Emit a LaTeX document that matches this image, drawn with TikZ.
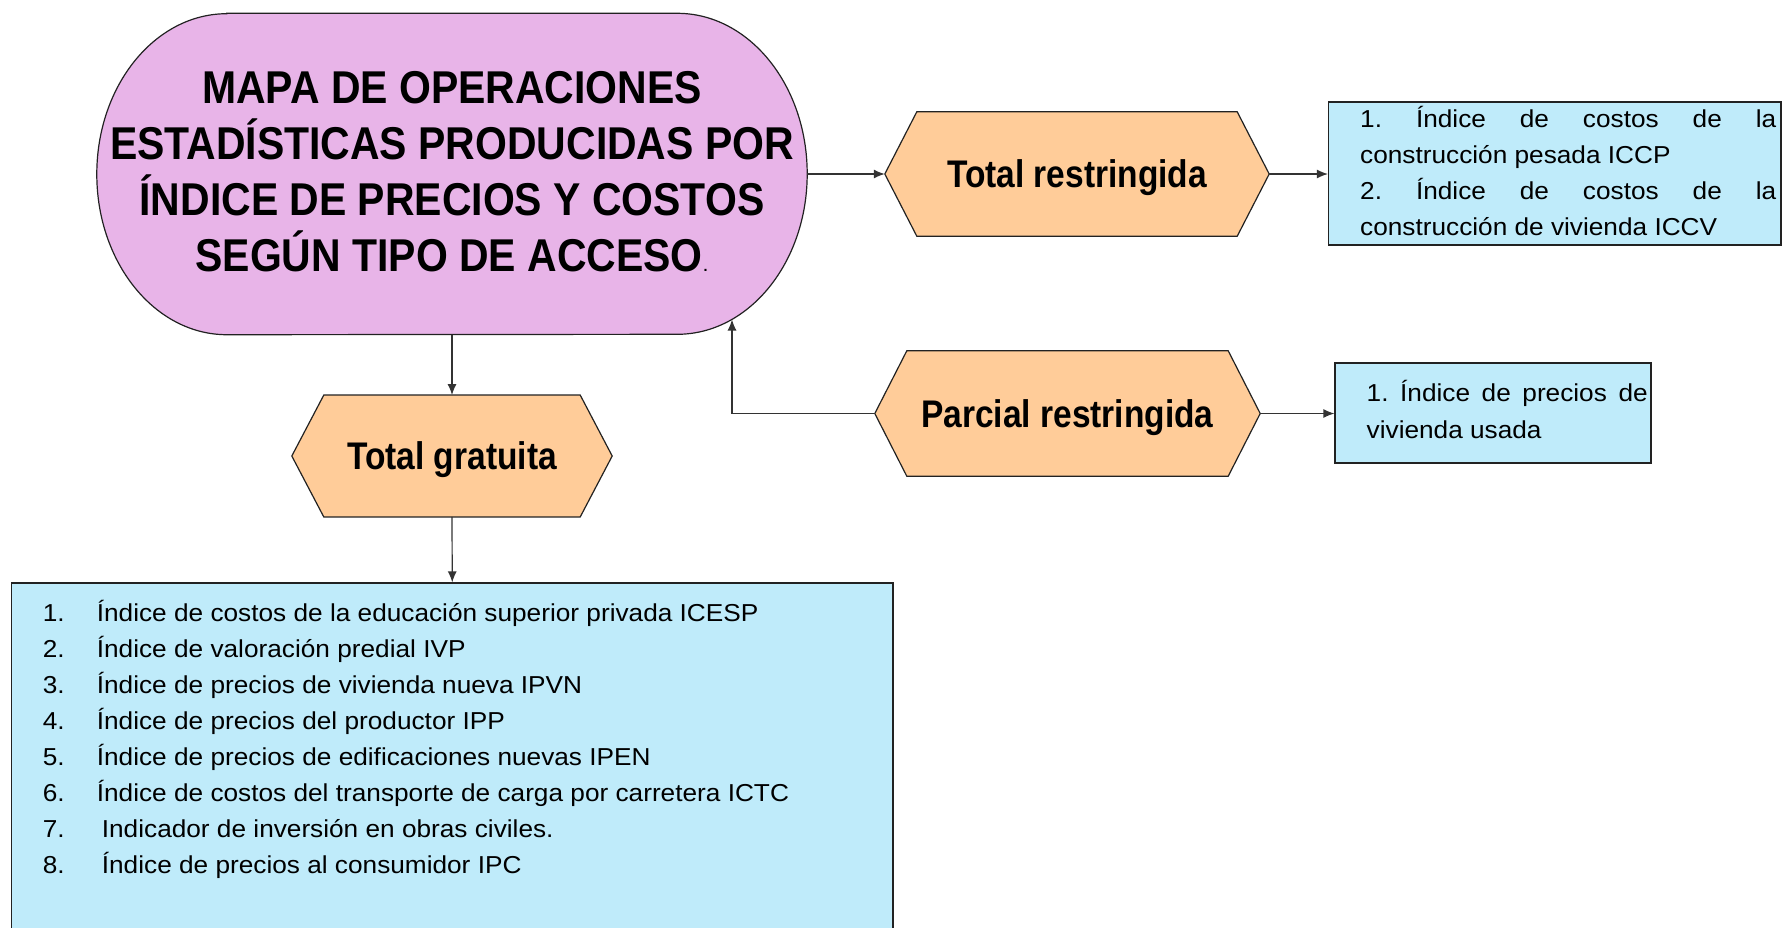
\documentclass[tikz,border=0pt]{standalone}
\usepackage{fontspec}
\setmainfont{Liberation Sans}
\newfontfamily\regfont{Liberation Sans}[FakeStretch=1.07]
\newfontfamily\hexfontfam{Liberation Sans}[FakeStretch=0.87]
\newfontfamily\titlefontfam{Liberation Sans}[FakeStretch=0.89]
\usetikzlibrary{arrows.meta,backgrounds,calc}
\definecolor{stadpink}{RGB}{232,180,232}
\definecolor{hexpeach}{RGB}{255,204,153}
\definecolor{boxcyan}{RGB}{191,235,250}
\definecolor{outline}{RGB}{34,34,34}
\definecolor{linegray}{RGB}{51,51,51}
\begin{document}
\begin{tikzpicture}[x=1pt,y=1pt,
  conn/.style={draw=linegray, line width=1.2pt, -{Latex[length=11pt,width=9pt]}},
  mainnode/.style={shape=rectangle, inner sep=0pt, minimum width=710pt, minimum height=321pt,
    align=center, text depth=6pt, font=\titlefontfam\bfseries\fontsize{46}{56}\selectfont},
  hexnode/.style={shape=rectangle, inner sep=0pt, minimum height=124pt, text height=27pt,
    text depth=0pt, font=\hexfontfam\bfseries\fontsize{38.5}{39}\selectfont},
  shapeline/.style={draw=outline, line width=1.2pt},
  listbox/.style={shape=rectangle, fill=boxcyan, draw=outline, line width=1.2pt, inner sep=0pt},
  linetext/.style={anchor=base west, inner sep=0pt, font=\regfont\fontsize{24.5}{36}\selectfont},
]
\clip (0,0) rectangle (1782,-927);

% main title node
\node[mainnode] (main) at (452,-174) {MAPA DE OPERACIONES\\ESTADÍSTICAS PRODUCIDAS POR\\ÍNDICE DE PRECIOS Y COSTOS\\SEGÚN TIPO DE ACCESO{\regfont\mdseries\fontsize{20}{20}\selectfont.}};

% hexagon nodes
\node[hexnode, minimum width=384pt] (tr) at (1077,-174) {Total restringida};
\node[hexnode, minimum width=385pt, minimum height=125pt] (pr) at (1067.5,-413.5) {Parcial restringida};
\node[hexnode, minimum width=320pt, minimum height=121.5pt] (tg) at (452,-456) {Total gratuita};

% list boxes
\node[listbox, minimum width=452.5pt, minimum height=143pt] (box1) at (1554.75,-173.5) {};
\node[listbox, minimum width=316pt, minimum height=100pt] (box2) at (1493,-413) {};
\node[listbox, minimum width=881.5pt, minimum height=357pt] (box3) at (452.25,-761.5) {};

% box 1 text
\node[linetext] (b1l1) at (1360,-127) {\hbox to 416pt{1.\hfill Índice\hfill de\hfill costos\hfill de\hfill la}};
\node[linetext] (b1l2) at (1360,-163) {construcción pesada ICCP};
\node[linetext] (b1l3) at (1360,-199) {\hbox to 416pt{2.\hfill Índice\hfill de\hfill costos\hfill de\hfill la}};
\node[linetext] (b1l4) at (1360,-235) {construcción de vivienda ICCV};

% box 2 text
\node[linetext] (b2l1) at (1366.5,-401.5) {\hbox to 281pt{1.\hfill Índice\hfill de\hfill precios\hfill de}};
\node[linetext] (b2l2) at (1366.5,-438) {vivienda usada};

% box 3 items
\node[linetext] (i1) at (42.7,-621.7) {\makebox[54pt][l]{1.}Índice de costos de la educación superior privada ICESP};
\node[linetext] (i2) at (42.7,-657.7) {\makebox[54pt][l]{2.}Índice de valoración predial IVP};
\node[linetext] (i3) at (42.7,-693.6) {\makebox[54pt][l]{3.}Índice de precios de vivienda nueva IPVN};
\node[linetext] (i4) at (42.7,-729.6) {\makebox[54pt][l]{4.}Índice de precios del productor IPP};
\node[linetext] (i5) at (42.7,-765.5) {\makebox[54pt][l]{5.}Índice de precios de edificaciones nuevas IPEN};
\node[linetext] (i6) at (42.7,-801.5) {\makebox[54pt][l]{6.}Índice de costos del transporte de carga por carretera ICTC};
\node[linetext] (i7) at (42.7,-837.4) {\makebox[59pt][l]{7.}Indicador de inversión en obras civiles.};
\node[linetext] (i8) at (42.7,-873.4) {\makebox[59pt][l]{8.}Índice de precios al consumidor IPC};

% shapes behind the text
\begin{scope}[on background layer]
  \path[shapeline, fill=stadpink]
    ([xshift=130pt]main.north west) -- ([xshift=-130pt]main.north east)
    arc[start angle=90, end angle=-90, x radius=130pt, y radius=160.5pt]
    -- ([xshift=130pt]main.south west)
    arc[start angle=270, end angle=90, x radius=130pt, y radius=160.5pt] -- cycle;
  \foreach \h in {tr,pr,tg}{
    \path[shapeline, fill=hexpeach]
      (\h.west) -- ([xshift=32pt]\h.north west) -- ([xshift=-32pt]\h.north east)
      -- (\h.east) -- ([xshift=-32pt]\h.south east) -- ([xshift=32pt]\h.south west) -- cycle;
  }
\end{scope}

% connectors
\coordinate (fb) at (732,-319.5);
\draw[conn] (main.east) -- (tr.west);
\draw[conn] (tr.east) -- (tr.east -| box1.west);
\draw[conn] (main.south) -- (tg.north);
\draw[conn] (tg.south) -- (box3.north);
\draw[conn] (pr.west) -| (fb);
\draw[conn] (pr.east) -- (pr.east -| box2.west);
\end{tikzpicture}
\end{document}
